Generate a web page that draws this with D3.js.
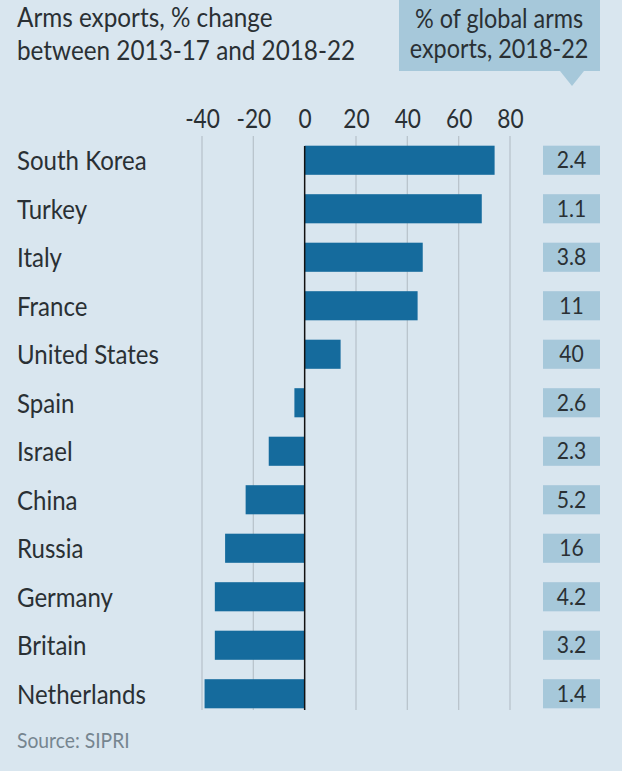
<!DOCTYPE html>
<html><head><meta charset="utf-8">
<script src="https://cdn.jsdelivr.net/npm/d3@7"></script>
<style>html,body{margin:0;padding:0;background:#fff;}svg{display:block;}</style>
</head><body>
<script>
const countries = ["South Korea","Turkey","Italy","France","United States","Spain","Israel","China","Russia","Germany","Britain","Netherlands"];
const changePct = [74, 69, 46, 44, 14, -4, -14, -23, -31, -35, -35, -39];
const sharePct = ["2.4","1.1","3.8","11","40","2.6","2.3","5.2","16","4.2","3.2","1.4"];
const ticks = [-40,-20,0,20,40,60,80];
const titleLines = ["Arms exports, % change","between 2013-17 and 2018-22"];
const headerLines = ["% of global arms","exports, 2018-22"];
const source = "Source: SIPRI";

const W = 622, H = 775;
const font = "Lato, 'Noto Sans', sans-serif";
const ink = "#2a3034";
const wt = 400;
const svg = d3.select("body").append("svg").attr("width", W).attr("height", H);
svg.append("rect").attr("width", W).attr("height", 771).attr("fill", "#d9e6ef");

const x = d3.scaleLinear().domain([-40, 80]).range([202, 510]);
const y = d3.scaleBand().domain(countries).range([136, 718]).paddingInner(0.4).paddingOuter(0.2);

// title
svg.append("g").selectAll("text").data(titleLines).join("text")
  .attr("transform", (d,i) => `translate(17,${27 + i*33}) scale(0.9,1)`)
  .attr("font-family", font).attr("font-weight", wt).attr("font-size", 27).attr("fill", ink).text(d => d);

// header box
const hb = svg.append("g");
hb.append("rect").attr("x", 399).attr("y", 0).attr("width", 201).attr("height", 71).attr("fill", "#a6c8da");
hb.append("path").attr("d", "M560,71 L584,71 L572,86 Z").attr("fill", "#a6c8da");
hb.selectAll("text").data(headerLines).join("text")
  .attr("transform", (d,i) => `translate(499,${28 + i*30}) scale(0.9,1)`).attr("text-anchor", "middle")
  .attr("font-family", font).attr("font-weight", wt).attr("font-size", 26).attr("fill", ink).text(d => d);

// grid
svg.append("g").selectAll("line").data(ticks.filter(t => t !== 0)).join("line")
  .attr("x1", d => x(d)).attr("x2", d => x(d)).attr("y1", 136).attr("y2", 710)
  .attr("stroke", "#b9c4cc").attr("stroke-width", 1.3);

// axis labels
const axis = d3.axisTop(x).tickValues(ticks).tickSize(0).tickPadding(0).tickFormat(d => String(d));
const ag = svg.append("g").attr("transform", "translate(0,128)").call(axis);
ag.select(".domain").remove();
ag.selectAll("text").attr("font-family", font).attr("font-weight", wt).attr("font-size", 27).attr("fill", ink).attr("dy", 0)
  .attr("transform", "scale(0.84,1)");

// bars
svg.append("g").selectAll("rect").data(countries).join("rect")
  .attr("x", (d,i) => x(Math.min(0, changePct[i])))
  .attr("width", (d,i) => Math.abs(x(changePct[i]) - x(0)))
  .attr("y", d => y(d)).attr("height", y.bandwidth())
  .attr("fill", "#156b9d");

// zero line
svg.append("line").attr("x1", x(0)).attr("x2", x(0)).attr("y1", 146).attr("y2", 710)
  .attr("stroke", "#111").attr("stroke-width", 1.5);

// country labels
svg.append("g").selectAll("text").data(countries).join("text")
  .attr("transform", d => `translate(17,${y(d) + y.bandwidth()/2 + 10}) scale(0.89,1)`)
  .attr("font-family", font).attr("font-weight", wt).attr("font-size", 27).attr("fill", ink).text(d => d);

// share boxes
const sg = svg.append("g").selectAll("g").data(countries).join("g");
sg.append("rect").attr("x", 543).attr("y", d => y(d)).attr("width", 57).attr("height", y.bandwidth()).attr("fill", "#a6c8da");
sg.append("text").attr("transform", d => `translate(571.5,${y(d) + y.bandwidth()/2 + 8}) scale(0.92,1)`).attr("text-anchor", "middle")
  .attr("font-family", font).attr("font-weight", wt).attr("font-size", 23).attr("fill", ink).text((d,i) => sharePct[i]);

// source
svg.append("text").attr("transform", "translate(17,748) scale(0.92,1)").attr("font-family", font).attr("font-weight", wt).attr("font-size", 21)
  .attr("fill", "#76858f").text(source);
</script>
</body></html>
